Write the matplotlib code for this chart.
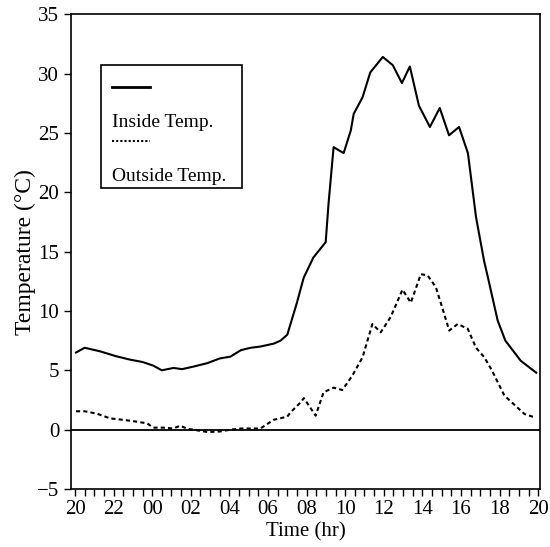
import numpy as np
import matplotlib.pyplot as plt
from matplotlib.ticker import MultipleLocator

# hours elapsed since 20:00 of the first day
inside_h = [0.05, 0.5, 1.3, 2.1, 2.85, 3.5, 4.05, 4.5, 5.1, 5.55, 6.1, 6.85, 7.5,
            8.05, 8.6, 9.1, 9.6, 10.3, 10.65, 11.0, 11.5, 11.85, 12.35, 12.99, 13.14,
            13.4, 13.92, 14.29, 14.44, 14.9, 15.3, 15.95, 16.47, 16.94, 17.35, 17.82,
            18.39, 18.9, 19.38, 19.9, 20.36, 20.78, 21.2, 21.4, 21.9, 22.3, 23.1, 23.9]
inside_t = [6.5, 6.9, 6.6, 6.2, 5.9, 5.7, 5.4, 5.0, 5.2, 5.1, 5.3, 5.6, 6.0,
            6.15, 6.7, 6.9, 7.0, 7.25, 7.5, 8.0, 10.7, 12.8, 14.5, 15.8, 19.1,
            23.8, 23.3, 25.2, 26.6, 28.0, 30.1, 31.4, 30.7, 29.2, 30.6, 27.3,
            25.5, 27.1, 24.8, 25.5, 23.3, 17.9, 14.2, 12.8, 9.2, 7.5, 5.8, 4.8]

outside_h = [0.05, 0.5, 1.13, 1.82, 2.49, 3.22, 3.74, 4.05, 4.57, 5.09, 5.45, 5.82,
             6.13, 6.86, 7.53, 8.05, 8.57, 9.25, 9.61, 10.29, 11.0, 11.17, 11.69,
             11.86, 12.47, 12.88, 13.4, 13.85, 14.37, 14.9, 15.41, 15.84, 16.36,
             16.97, 17.4, 17.92, 18.27, 18.7, 19.13, 19.39, 19.83, 20.35, 20.78,
             21.21, 21.6, 22.25, 23.29, 23.81]
outside_t = [1.55, 1.55, 1.35, 0.95, 0.83, 0.67, 0.53, 0.17, 0.17, 0.1, 0.33, 0.08,
             0.0, -0.2, -0.15, 0.0, 0.1, 0.1, 0.1, 0.83, 1.1, 1.46, 2.3,
             2.66, 1.18, 3.15, 3.54, 3.34, 4.55, 6.1, 8.9, 8.2, 9.5,
             11.8, 10.7, 13.1, 13.0, 12.0, 9.75, 8.35, 8.9, 8.5, 6.9,
             6.1, 5.0, 2.87, 1.32, 1.04]

tick_pos = list(range(0, 25, 2))
tick_labels = ["20", "22", "00", "02", "04", "06", "08", "10", "12", "14", "16", "18", "20"]

plt.rcParams['font.family'] = ['Liberation Serif', 'DejaVu Serif']

fig = plt.figure(figsize=(5.5, 5.47), dpi=100)
ax = fig.add_axes([0.129, 0.106, 0.853, 0.868])

ax.plot(inside_h, inside_t, color='black', lw=1.5)
ax.plot(outside_h, outside_t, color='black', lw=1.5, dashes=(2.0, 1.5))
ax.axhline(0, color='black', lw=1.3)

ax.set_xlim(-0.21, 24.1)
ax.set_ylim(-5, 35)
ax.set_xticks(tick_pos)
ax.set_xticklabels(tick_labels)
ax.xaxis.set_minor_locator(MultipleLocator(0.5))
ax.yaxis.set_major_locator(MultipleLocator(5))
ax.tick_params(axis='both', which='both', direction='out', length=5, width=1,
               labelsize=15, top=False, right=False)
ax.tick_params(axis='x', pad=3)
ax.set_yticklabels([f"{int(v)}" if v >= 0 else f"\u2212{int(-v)}" for v in ax.get_yticks()])

for s in ax.spines.values():
    s.set_linewidth(1.2)

ax.set_xlabel("Time (hr)", fontsize=15, labelpad=2)
ax.set_ylabel("Temperature (\u00b0C)", fontsize=17, labelpad=1)

# legend drawn in axes fraction: handle above each label
tr = ax.transAxes
ax.add_patch(plt.Rectangle((0.064, 0.634), 0.301, 0.259, transform=tr,
                           fill=False, edgecolor='black', lw=1.2))
ax.plot([0.087, 0.168], [0.846, 0.846], transform=tr, color='black', lw=2)
ax.text(0.087, 0.762, "Inside Temp.", transform=tr, fontsize=14, va='baseline')
ax.plot([0.087, 0.168], [0.733, 0.733], transform=tr, color='black', lw=1.5,
        dashes=(1.0, 1.0))
ax.text(0.087, 0.648, "Outside Temp.", transform=tr, fontsize=14, va='baseline')

fig.savefig("out.png", dpi=100)
